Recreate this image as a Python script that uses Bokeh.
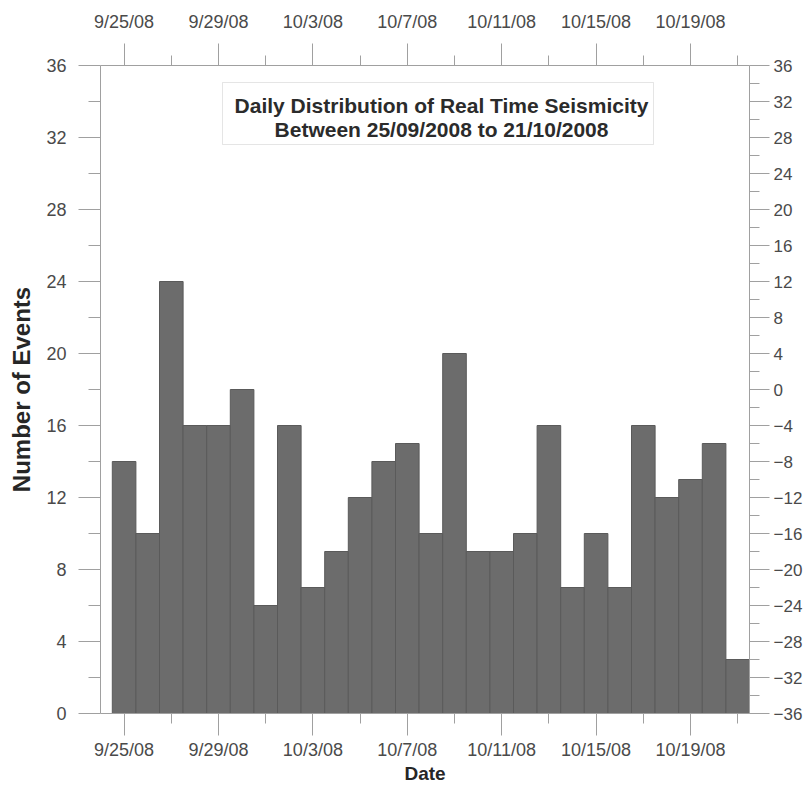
import pandas as pd
from bokeh.plotting import figure
from bokeh.models import (Range1d, LinearAxis, FixedTicker, CustomJSTickFormatter,
                          BoxAnnotation, Label, ColumnDataSource)
from bokeh.embed import file_html
from bokeh.resources import INLINE

# ---------------- data ----------------
dates = ["2008-09-25", "2008-09-26", "2008-09-27", "2008-09-28", "2008-09-29",
         "2008-09-30", "2008-10-01", "2008-10-02", "2008-10-03", "2008-10-04",
         "2008-10-05", "2008-10-06", "2008-10-07", "2008-10-08", "2008-10-09",
         "2008-10-10", "2008-10-11", "2008-10-12", "2008-10-13", "2008-10-14",
         "2008-10-15", "2008-10-16", "2008-10-17", "2008-10-18", "2008-10-19",
         "2008-10-20", "2008-10-21"]
counts = [14, 10, 24, 16, 16, 18, 6, 16, 7, 9, 12, 14, 15, 10, 20,
          9, 9, 10, 16, 7, 10, 7, 16, 12, 13, 15, 3]

major_tick_dates = ["2008-09-25", "2008-09-29", "2008-10-03", "2008-10-07",
                    "2008-10-11", "2008-10-15", "2008-10-19"]
minor_tick_dates = ["2008-09-27", "2008-10-01", "2008-10-05", "2008-10-09",
                    "2008-10-13", "2008-10-17", "2008-10-21"]
left_ticks = [0, 4, 8, 12, 16, 20, 24, 28, 32, 36]
left_minor = [2, 6, 10, 14, 18, 22, 26, 30, 34]
right_ticks = [-36, -32, -28, -24, -20, -16, -12, -8, -4, 0, 4, 8, 12, 16, 20, 24, 28, 32, 36]
right_minor = [-34, -30, -26, -22, -18, -14, -10, -6, -2, 2, 6, 10, 14, 18, 22, 26, 30, 34]
title_lines = ["Daily Distribution of Real Time Seismicity",
               "Between 25/09/2008 to 21/10/2008"]
x_label = "Date"
y_label = "Number of Events"

# ---------------- helpers ----------------
DAY = 86400000.0


def ms(s):
    return pd.Timestamp(s).value / 1e6


x_start = ms("2008-09-24")
x_end = ms("2008-10-21") + DAY / 2
W, H = 807, 787
FRAME_L, FRAME_R, FRAME_T, FRAME_B = 100, 749, 65, 713  # canvas px


def fx(px):
    return x_start + (px - FRAME_L) / (FRAME_R - FRAME_L) * (x_end - x_start)


def fy(py):
    return (FRAME_B - py) / (FRAME_B - FRAME_T) * 36.0


src = ColumnDataSource(dict(x=[ms(d) for d in dates], top=counts))

FONT = "Liberation Sans"
AX_COL = "#a0a0a0"
LBL_COL = "#4a4a4a"

p = figure(width=W, height=H, x_range=Range1d(x_start, x_end),
           y_range=Range1d(0, 36), output_backend="svg", toolbar_location=None,
           min_border_left=FRAME_L, min_border_right=W - FRAME_R,
           min_border_top=FRAME_T, min_border_bottom=H - FRAME_B,
           background_fill_color="white", border_fill_color="white")
p.outline_line_color = None
p.xgrid.visible = False
p.ygrid.visible = False

p.vbar(x="x", top="top", width=DAY, bottom=0, source=src,
       fill_color="#6c6c6c", line_color="#5a5a5a", line_width=1)

xfmt = CustomJSTickFormatter(code="""
const d = new Date(tick);
return (d.getUTCMonth()+1) + "/" + d.getUTCDate() + "/" + String(d.getUTCFullYear()).slice(2);
""")
xticker = FixedTicker(ticks=[ms(d) for d in major_tick_dates],
                      minor_ticks=[ms(d) for d in minor_tick_dates])


def style_axis(ax, tick_out, minor_out, standoff, font_size="18px"):
    ax.axis_line_color = AX_COL
    ax.axis_line_width = 1
    ax.major_tick_line_color = AX_COL
    ax.minor_tick_line_color = AX_COL
    ax.major_tick_in = 0
    ax.minor_tick_in = 0
    ax.major_tick_out = tick_out
    ax.minor_tick_out = minor_out
    ax.major_label_standoff = standoff
    ax.major_label_text_font = FONT
    ax.major_label_text_font_size = font_size
    ax.major_label_text_color = LBL_COL
    ax.axis_label_text_font = FONT
    ax.axis_label_text_font_style = "bold"
    ax.axis_label_text_color = "#262626"


# bottom axis
bx = p.xaxis[0]
bx.ticker = xticker
bx.formatter = xfmt
style_axis(bx, 22, 10, 4)
bx.axis_label = x_label
bx.axis_label_text_font_size = "19px"
bx.axis_label_standoff = 0

# top axis
tx = LinearAxis(ticker=xticker, formatter=xfmt)
style_axis(tx, 22, 10, 12)
p.add_layout(tx, "above")

# left axis
ly = p.yaxis[0]
ly.ticker = FixedTicker(ticks=left_ticks, minor_ticks=left_minor)
style_axis(ly, 22, 12, 12)
ly.axis_label = y_label
ly.axis_label_text_font_size = "24px"
ly.axis_label_standoff = 8

# right axis
p.extra_y_ranges = {"right": Range1d(-36, 36)}
ry = LinearAxis(y_range_name="right",
                ticker=FixedTicker(ticks=right_ticks, minor_ticks=right_minor))
style_axis(ry, 20, 10, 4, font_size="17px")
p.add_layout(ry, "right")

# title box
box = BoxAnnotation(left=fx(222), right=fx(653), top=fy(82), bottom=fy(144),
                    fill_color="white", fill_alpha=1.0,
                    line_color="#aaaaaa", line_width=1)
p.add_layout(box)
for txt, py in zip(title_lines, [105, 129]):
    p.add_layout(Label(x=fx(441), y=fy(py), text=txt, text_align="center",
                       text_baseline="middle", text_font=FONT,
                       text_font_style="bold", text_font_size="21px",
                       text_color="#2b2b2b"))

open("out.html", "w").write(file_html(p, INLINE))
